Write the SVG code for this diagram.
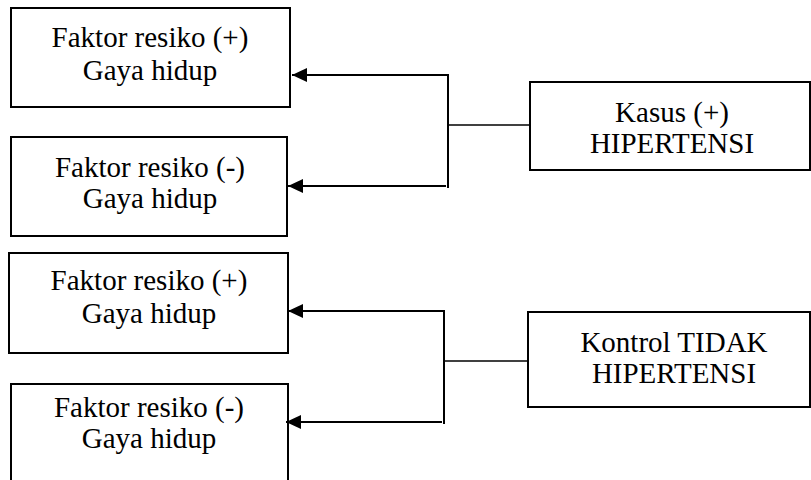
<svg xmlns="http://www.w3.org/2000/svg" width="811" height="480" viewBox="0 0 811 480">
<style>
.box{fill:#fff;stroke:#000;stroke-width:2}
.t{font-size:29px;fill:#000;text-anchor:middle}
.ln{fill:none;stroke:#000;stroke-width:2}
.th{fill:none;stroke:#000;stroke-width:1.6}
</style>
<defs>
<marker id="ah" markerUnits="userSpaceOnUse" markerWidth="16" markerHeight="14" refX="15" refY="7" orient="auto">
<path d="M0,0 L15,7 L0,14 Z" fill="#000"/>
</marker>
</defs>
<rect width="811" height="480" fill="#fff"/>
<g font-family="Liberation Serif, Tinos, Times New Roman, serif">
<g id="n1"><rect class="box" x="11" y="8" width="279" height="99"/><text class="t" x="150" y="47">Faktor resiko (+)</text><text class="t" x="150" y="80">Gaya hidup</text></g>
<g id="n2"><rect class="box" x="11" y="137" width="276" height="99"/><text class="t" x="150" y="177">Faktor resiko (-)</text><text class="t" x="150" y="208">Gaya hidup</text></g>
<g id="n3"><rect class="box" x="9" y="253" width="279" height="100"/><text class="t" x="149" y="290">Faktor resiko (+)</text><text class="t" x="149" y="323">Gaya hidup</text></g>
<g id="n4"><rect class="box" x="11" y="384" width="277" height="110"/><text class="t" x="149" y="417">Faktor resiko (-)</text><text class="t" x="149" y="448">Gaya hidup</text></g>
<g id="n5"><rect class="box" x="530" y="82" width="280" height="88"/><text class="t" x="672" y="122">Kasus (+)</text><text class="t" x="672" y="153">HIPERTENSI</text></g>
<g id="n6"><rect class="box" x="528" y="312" width="282" height="95"/><text class="t" x="674" y="352">Kontrol TIDAK</text><text class="t" x="674" y="383">HIPERTENSI</text></g>
</g>
<g id="connectors">
<path class="ln" d="M448,188 V75 M449,75 H292" marker-end="url(#ah)"/>
<path class="ln" d="M446,186 H288" marker-end="url(#ah)"/>
<path class="th" d="M448,125 H530"/>
<path class="ln" d="M444,424 V311 M445,311 H288" marker-end="url(#ah)"/>
<path class="ln" d="M442,422 H286" marker-end="url(#ah)"/>
<path class="th" d="M444,361 H528"/>
</g>
</svg>
